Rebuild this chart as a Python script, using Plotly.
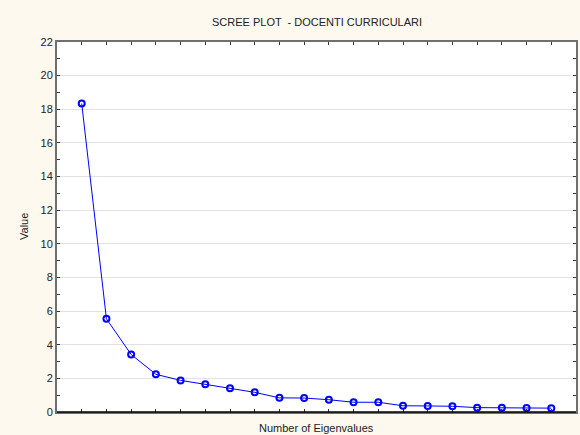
import plotly.graph_objects as go

eigen_numbers = list(range(1, 21))
eigen_values = [18.34, 5.54, 3.42, 2.24, 1.88, 1.65, 1.41, 1.17, 0.84, 0.83,
                0.73, 0.58, 0.58, 0.37, 0.36, 0.34, 0.26, 0.25, 0.24, 0.23]
y_ticks = list(range(0, 23, 2))

title_text = "SCREE PLOT  - DOCENTI CURRICULARI"
x_title = "Number of Eigenvalues"
y_title = "Value"

FONT = "Liberation Sans, Arial, sans-serif"

fig = go.Figure()
fig.add_trace(go.Scatter(
    x=eigen_numbers, y=eigen_values, mode="lines+markers",
    line=dict(color="#0000ff", width=1),
    marker=dict(symbol="circle-open", size=6, color="#0000ff", line=dict(width=2, color="#0000ff")),
    showlegend=False, hoverinfo="x+y",
))

fig.update_layout(
    width=580, height=435,
    paper_bgcolor="#fdf9ee", plot_bgcolor="#ffffff",
    margin=dict(l=57, r=2, t=42, b=23),
    font=dict(family=FONT, size=11, color="#222222"),
    showlegend=False,
    annotations=[
        dict(text=title_text, x=0.5, y=22, xref="paper", yref="y", yshift=20,
             showarrow=False, font=dict(size=11, family=FONT, color="#222222")),
        dict(text=x_title, x=0.5, y=0, xref="paper", yref="paper", yshift=-24,
             showarrow=False, font=dict(size=11, family=FONT, color="#222222")),
        dict(text=y_title, x=0, y=0.5, xref="paper", yref="paper", xshift=-33,
             xanchor="center", yanchor="middle",
             textangle=-90, showarrow=False, font=dict(size=11, family=FONT, color="#222222")),
    ],
    shapes=[
        dict(type="line", xref="paper", yref="paper", x0=0, x1=1, y0=0, y1=0,
             line=dict(color="#000000", width=1.5), layer="above"),
    ],
)

fig.update_xaxes(
    range=[0, 21], tickmode="array", tickvals=eigen_numbers, showticklabels=False,
    ticks="inside", ticklen=3, tickcolor="#333333", tickwidth=1,
    showline=True, linecolor="#6f6f6f", linewidth=2, mirror="ticks",
    showgrid=False, zeroline=False,
)
fig.update_yaxes(
    range=[0, 22], tickmode="array", tickvals=y_ticks,
    ticks="inside", ticklen=3, tickcolor="#333333", tickwidth=1,
    showline=True, linecolor="#6f6f6f", linewidth=2, mirror="ticks",
    showgrid=True, gridcolor="#e2e2e2", gridwidth=1, zeroline=False,
    minor=dict(dtick=1, ticks="inside", ticklen=3, tickcolor="#333333", showgrid=False),
    tickfont=dict(size=11, family=FONT, color="#222222"),
)

fig.write_html(
    "out.html",
    config={"displayModeBar": False},
    post_script="document.body.style.margin='0';document.body.style.overflow='hidden';",
)
